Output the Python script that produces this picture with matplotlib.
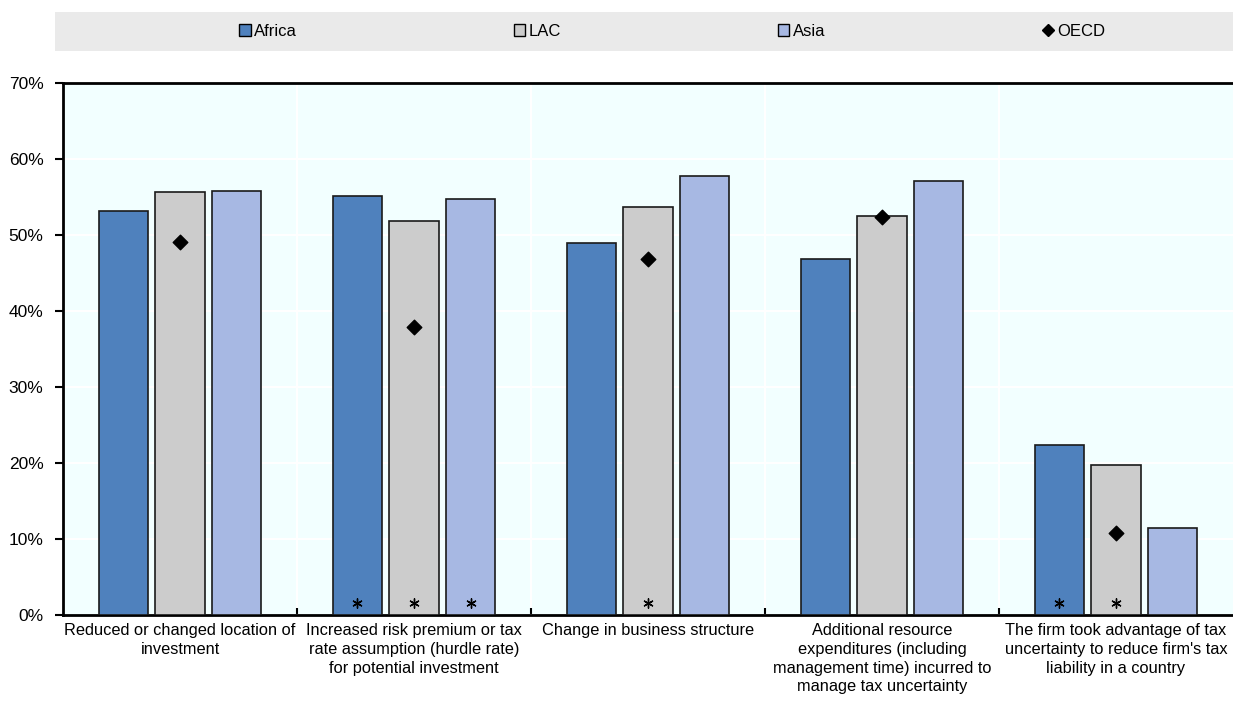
import matplotlib.pyplot as plt
from matplotlib.patches import Patch, Rectangle
from matplotlib.lines import Line2D
from matplotlib.ticker import FuncFormatter, FixedLocator
import numpy as np

plt.rcParams['font.family'] = ['Liberation Sans', 'DejaVu Sans']

categories = [
    "Reduced or changed location of\ninvestment",
    "Increased risk premium or tax\nrate assumption (hurdle rate)\nfor potential investment",
    "Change in business structure",
    "Additional resource\nexpenditures (including\nmanagement time) incurred to\nmanage tax uncertainty",
    "The firm took advantage of tax\nuncertainty to reduce firm's tax\nliability in a country",
]
africa = [53.1, 55.1, 49.0, 46.9, 22.4]
lac = [55.6, 51.9, 53.7, 52.5, 19.7]
asia = [55.8, 54.8, 57.7, 57.1, 11.5]
oecd = [49.1, 37.9, 46.9, 52.4, 10.8]
# asterisk = low number of observations
africa_star = [False, True, False, False, True]
lac_star = [False, True, True, False, True]
asia_star = [False, True, False, False, False]

col_africa = '#4F81BD'
col_lac = '#CCCCCC'
col_asia = '#A7B8E3'

fig = plt.figure(figsize=(12.33, 7.11), dpi=100)
ax = fig.add_axes([63 / 1233, 96 / 711, 1 - 63 / 1233, 532 / 711])
ax.set_facecolor('#F2FFFF')

x = np.arange(len(categories))
w = 0.21
step = 0.243
series = [(africa, col_africa, africa_star, -step),
          (lac, col_lac, lac_star, 0),
          (asia, col_asia, asia_star, step)]
for vals, col, stars, off in series:
    ax.bar(x + off, vals, w, color=col, edgecolor='#1a1a1a', linewidth=1.2, zorder=3)
    sx = [x[i] + off for i, s in enumerate(stars) if s]
    ax.scatter(sx, [1.6] * len(sx), marker=(6, 2, 0), s=45, color='black',
               linewidths=1.0, zorder=5)

ax.scatter(x, oecd, marker='D', s=55, color='black', zorder=6)

ax.set_xlim(-0.5, len(categories) - 0.5)
ax.set_ylim(0, 70)
ax.set_yticks(np.arange(0, 71, 10))
ax.yaxis.set_major_formatter(FuncFormatter(lambda v, p: '%d%%' % v))
ax.grid(axis='y', color='white', linewidth=1.5, zorder=1)
for sep in np.arange(0.5, len(categories) - 0.5, 1):
    ax.axvline(sep, color='white', linewidth=1.5, zorder=1)

ax.set_xticks(x)
ax.set_xticklabels(categories, fontsize=11.8, linespacing=1.3)
ax.tick_params(axis='x', length=0, pad=6)
ax.xaxis.set_minor_locator(FixedLocator(np.arange(0.5, len(categories) - 0.5, 1)))
ax.tick_params(axis='x', which='minor', direction='in', length=5, width=1.5, color='black')
ax.tick_params(axis='y', direction='out', length=6, width=1.5, labelsize=12.5, pad=8, colors='black')

for side in ['left', 'top', 'bottom']:
    ax.spines[side].set_linewidth(2)
    ax.spines[side].set_color('black')
ax.spines['right'].set_visible(False)

# legend band
fig.patches.append(Rectangle((55 / 1233, 1 - 51 / 711), 1 - 55 / 1233, 39 / 711,
                             transform=fig.transFigure, facecolor='#EAEAEA',
                             edgecolor='none', zorder=0))
handles = [Patch(facecolor=col_africa, edgecolor='black', linewidth=1),
           Patch(facecolor=col_lac, edgecolor='black', linewidth=1),
           Patch(facecolor=col_asia, edgecolor='black', linewidth=1),
           Line2D([], [], marker='D', color='black', linestyle='none', markersize=6)]
fig.legend(handles, ['Africa', 'LAC', 'Asia', 'OECD'], loc='center',
           bbox_to_anchor=(672 / 1233, 1 - 31 / 711), ncol=4, frameon=False,
           fontsize=12, handlelength=0.7, handleheight=0.7, handletextpad=0.2,
           columnspacing=13.0)

fig.savefig('out.png', dpi=100)
